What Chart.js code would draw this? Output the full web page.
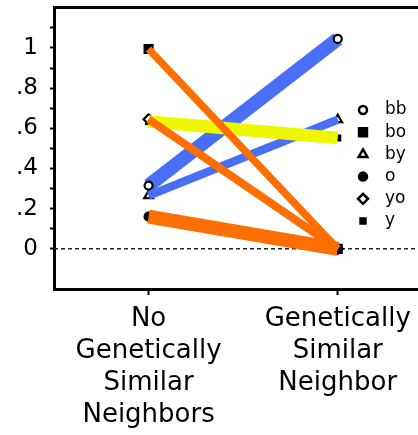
<!DOCTYPE html>
<html>
<head>
<meta charset="utf-8">
<script src="https://cdn.jsdelivr.net/npm/chart.js@4/dist/chart.umd.min.js"></script>
<style>
  html, body { margin:0; padding:0; background:#fff; overflow:hidden; }
  #wrap { width:425px; height:435px; position:relative; }
</style>
</head>
<body>
<div id="wrap"><canvas id="chart"></canvas></div>
<script>
// data
const xLabels = [["No","Genetically","Similar","Neighbors"], ["Genetically","Similar","Neighbor"]];
const seriesNames = ["bb","bo","by","o","yo","y"];
const noNeighbor   = [0.315, 0.995, 0.265, 0.16, 0.645, 0.634];
const withNeighbor = [1.045, 0, 0.643, 0, 0, 0.552];
const yMajor = [0, 0.2, 0.4, 0.6, 0.8, 1];
const yMinor = [0.1, 0.3, 0.5, 0.7, 0.9, 1.1];
const xMin = -0.5, xMax = 1.42, yMin = -0.2, yMax = 1.2;

// styles
const blue = "#4a6ff7", orange = "#ff6e00", yellow = "#eef700";
const lineColors  = [blue, orange, blue, orange, orange, yellow];
const lineWidths  = [14, 7.5, 8.5, 14, 8, 12.5];
const lineOrder   = [3, 1, 3, 1, 1, 2];
const markerStyle = ["circle","rect","triangle","circle","rectRot","rect"];
const markerFill  = ["#fff","#000","#fff","#000","#fff","#000"];
const markerSize  = [4, 5.6, 5, 4, 5, 3.5];
const FONT = "'DejaVu Sans', sans-serif";

const datasets = [];

// zero reference line
datasets.push({
  data: [{x:xMin, y:0}, {x:xMax, y:0}],
  showLine: true, borderColor: "#222", borderWidth: 1.5, borderDash: [4, 3],
  pointRadius: 0, order: 10
});

seriesNames.forEach((name, i) => {
  const pts = [{x:0, y:noNeighbor[i]}, {x:1, y:withNeighbor[i]}];
  datasets.push({
    label: name, data: pts, showLine: true,
    borderColor: lineColors[i], borderWidth: lineWidths[i],
    pointRadius: 0, order: lineOrder[i]
  });
  datasets.push({
    label: name + " pts", data: pts, showLine: false,
    pointStyle: markerStyle[i], pointRadius: markerSize[i], pointHoverRadius: markerSize[i],
    pointBackgroundColor: markerFill[i], pointBorderColor: "#000", pointBorderWidth: 2.2,
    order: name === "bb" ? 0 : 5
  });
});

// legend drawn inside the plot like the original
const pointLegend = {
  id: "pointLegend",
  afterDatasetsDraw(chart) {
    const ctx = chart.ctx;
    ctx.save();
    seriesNames.forEach((name, i) => {
      const y = 110 + i * 22.2;
      ctx.fillStyle = markerFill[i];
      ctx.strokeStyle = "#000";
      ctx.lineWidth = 2.5;
      Chart.helpers.drawPoint(ctx, {pointStyle: markerStyle[i], radius: markerSize[i], rotation: 0, borderWidth: 2.5}, 363, y);
      ctx.fillStyle = "#000";
      ctx.font = "17px " + FONT;
      ctx.textBaseline = "middle";
      ctx.textAlign = "left";
      ctx.fillText(name, 385, y);
    });
    ctx.restore();
  }
};

function fmtY(v) {
  const r = Math.round(v * 10) / 10;
  if (!yMajor.some(m => Math.abs(m - r) < 1e-6)) return "";
  if (r === 0) return "0";
  if (r === 1) return "1";
  return "." + Math.round(r * 10);
}

const noPad = s => { s.paddingTop = 0; s.paddingBottom = 0; s.paddingLeft = 0; s.paddingRight = 0; };

new Chart(document.getElementById("chart"), {
  type: "scatter",
  data: { datasets },
  options: {
    responsive: true,
    maintainAspectRatio: false,
    animation: false,
    layout: { padding: 0 },
    plugins: { legend: { display: false }, tooltip: { enabled: false } },
    scales: {
      x: {
        type: "linear", min: xMin, max: xMax, position: "bottom",
        afterBuildTicks: s => { s.ticks = [{value:0}, {value:1}]; },
        afterFit: s => { noPad(s); s.height = 146; },
        ticks: {
          autoSkip: false, maxRotation: 0, padding: 8, color: "#000",
          font: { family: FONT, size: 26, lineHeight: 1.23 },
          callback: v => xLabels[Math.round(v)]
        },
        grid: { drawOnChartArea: false, drawTicks: true, tickLength: 6, tickWidth: 2, tickColor: "#000" },
        border: { display: true, color: "#000", width: 3 }
      },
      x2: {
        type: "linear", min: xMin, max: xMax, position: "top",
        ticks: { display: false },
        grid: { display: false },
        border: { display: true, color: "#000", width: 3 },
        afterFit: s => { noPad(s); s.height = 5; }
      },
      y: {
        type: "linear", min: yMin, max: yMax,
        afterBuildTicks: s => { s.ticks = yMajor.concat(yMinor).sort((a, b) => a - b).map(v => ({value: v})); },
        afterFit: s => { noPad(s); s.width = 54; },
        ticks: {
          autoSkip: false, padding: 12, color: "#000",
          font: { family: FONT, size: 23 },
          callback: fmtY
        },
        grid: { drawOnChartArea: false, drawTicks: true, tickLength: 4, tickWidth: 2, tickColor: "#000" },
        border: { display: true, color: "#000", width: 3 }
      }
    }
  },
  plugins: [pointLegend]
});
</script>
</body>
</html>
